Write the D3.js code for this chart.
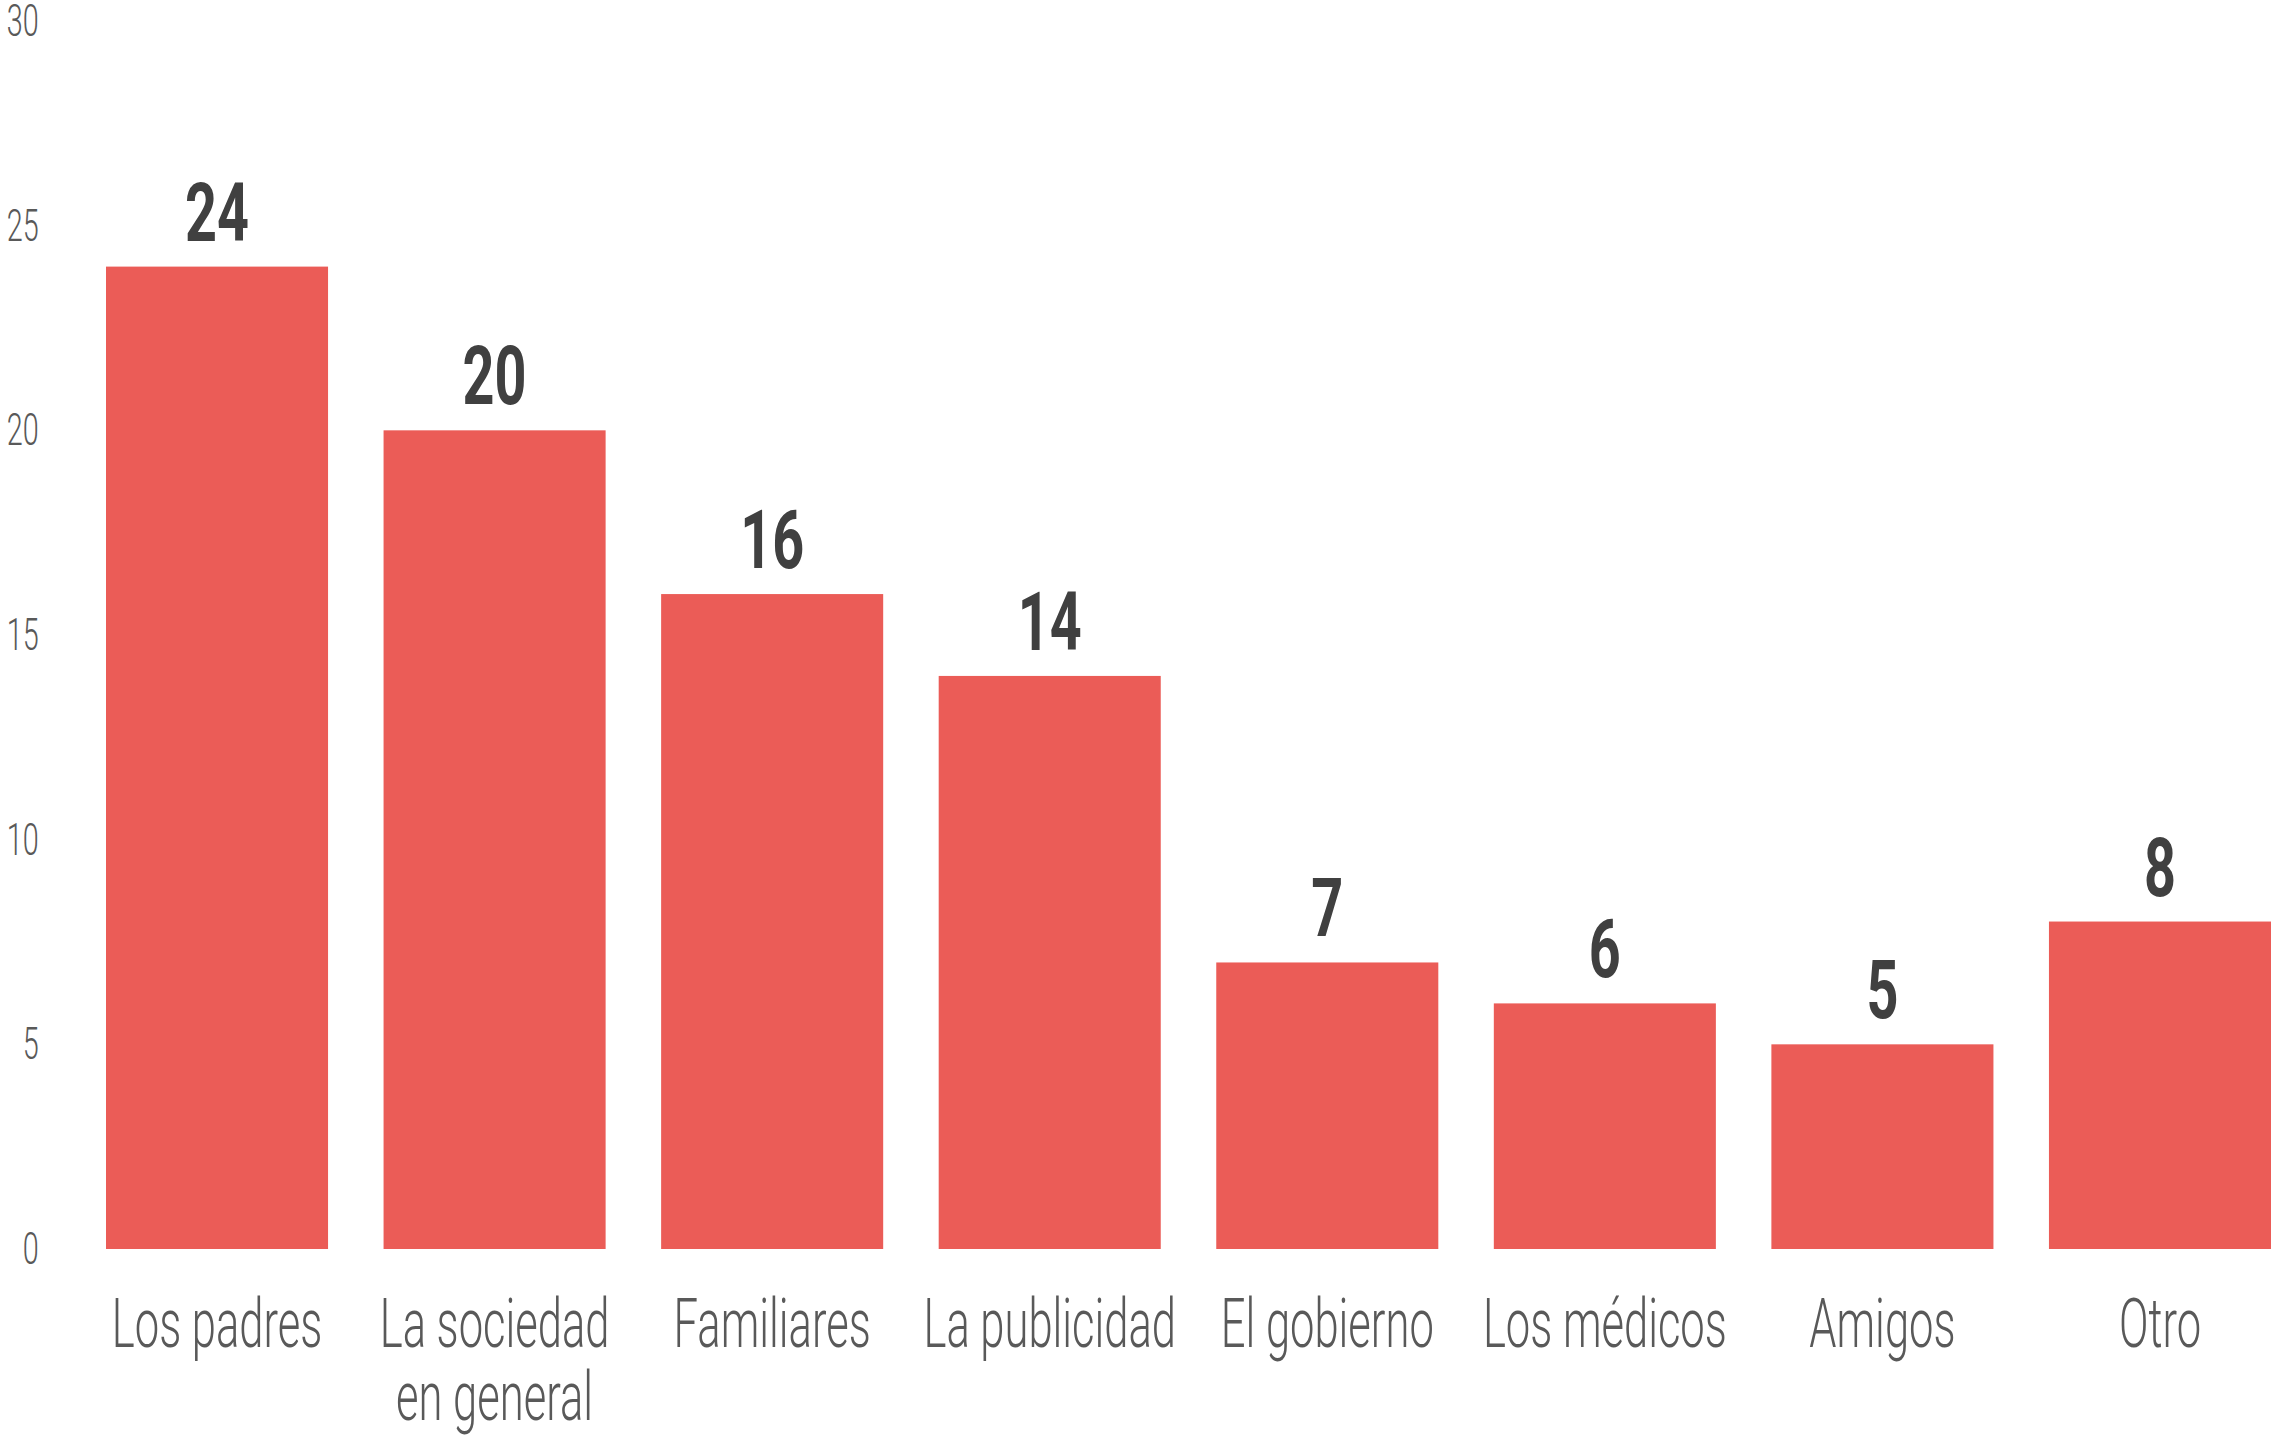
<!DOCTYPE html>
<html>
<head>
<meta charset="utf-8">
<script src="https://cdn.jsdelivr.net/npm/d3@7"></script>
<style>
  html, body { margin: 0; padding: 0; background: #ffffff; }
  svg { display: block; }
  text { font-family: Roboto, "Liberation Sans", "DejaVu Sans", sans-serif; }
</style>
</head>
<body>
<script>
const categories = ["Los padres", "La sociedad\nen general", "Familiares", "La publicidad", "El gobierno", "Los médicos", "Amigos", "Otro"];
const values = [24, 20, 16, 14, 7, 6, 5, 8];
const yTicks = [0, 5, 10, 15, 20, 25, 30];

const W = 2272, H = 1435;
const squeeze = 0.64;
const barColor = "#EB5C57";

const svg = d3.select("body").append("svg").attr("width", W).attr("height", H);

const x = d3.scaleBand().domain(categories).range([106, 2271]).paddingInner(0.2).paddingOuter(0);
const y = d3.scaleLinear().domain([0, 30]).range([1249, 21]);

// Y axis
const yAxis = svg.append("g")
  .attr("transform", "translate(40,0)")
  .call(d3.axisLeft(y).tickValues(yTicks).tickSize(0).tickPadding(2).tickFormat(d3.format("d")));
yAxis.select(".domain").remove();
yAxis.selectAll("text")
  .attr("fill", "#595959")
  .style("font-size", "45px")
  .style("font-weight", 300)
  .attr("transform", `scale(${squeeze},1)`);

// Bars
svg.append("g").selectAll("rect")
  .data(values)
  .join("rect")
  .attr("x", (d, i) => x(categories[i]))
  .attr("y", d => y(d))
  .attr("width", x.bandwidth())
  .attr("height", d => y(0) - y(d))
  .attr("fill", barColor);

// Value labels
svg.append("g").selectAll("text")
  .data(values)
  .join("text")
  .attr("transform", (d, i) => `translate(${x(categories[i]) + x.bandwidth() / 2},${y(d) - 26}) scale(${squeeze + 0.04},1)`)
  .attr("text-anchor", "middle")
  .attr("fill", "#404040")
  .style("font-size", "82px")
  .style("font-weight", 700)
  .text(d => d);

// X labels
const xl = svg.append("g").selectAll("g")
  .data(categories)
  .join("g")
  .attr("transform", d => `translate(${x(d) + x.bandwidth() / 2},1347)`);
xl.each(function(d) {
  const lines = d.split("\n");
  const t = d3.select(this).append("text")
    .attr("text-anchor", "middle")
    .attr("fill", "#595959")
    .style("font-size", "68px")
    .style("font-weight", 300)
    .attr("transform", `scale(${squeeze},1)`);
  lines.forEach((ln, k) => {
    t.append("tspan").attr("x", 0).attr("y", k * 73).text(ln);
  });
});
</script>
</body>
</html>
